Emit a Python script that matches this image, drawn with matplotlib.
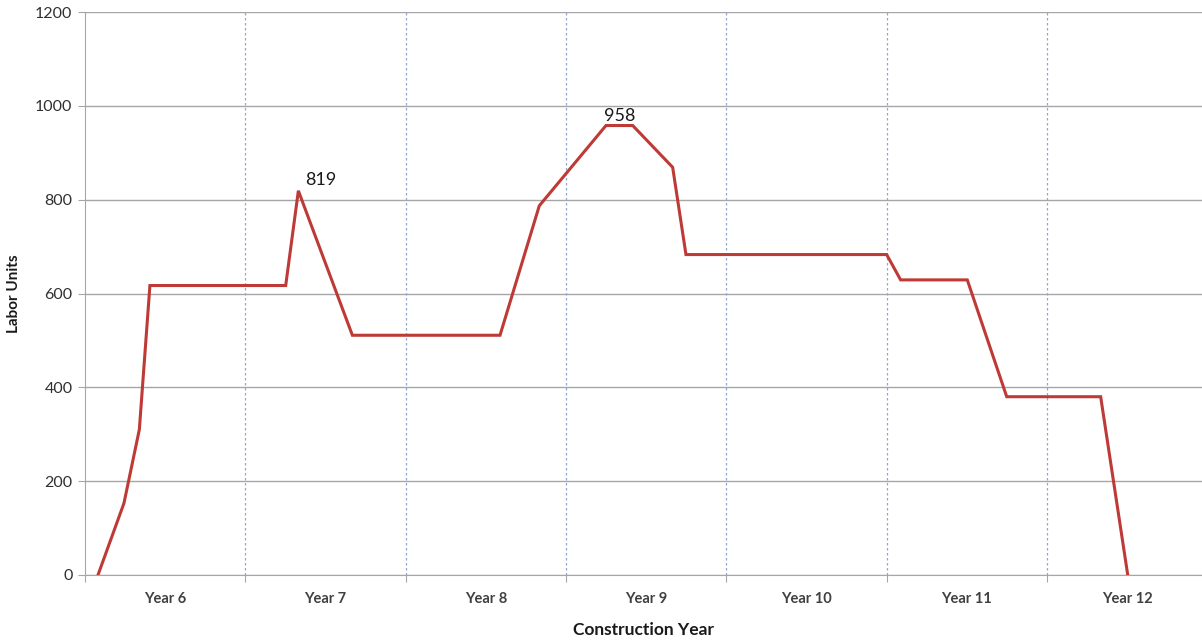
import matplotlib
matplotlib.use("Agg")
import matplotlib.pyplot as plt
from matplotlib.ticker import FixedLocator, NullFormatter

# Labor curve, x measured in years from the start of Year 6
x_pos = [0.081, 0.243, 0.339, 0.405, 1.252, 1.331, 1.668, 2.589, 2.834, 3.250,
         3.417, 3.666, 3.749, 5.001, 5.088, 5.504, 5.750, 6.336, 6.505]
labor = [0, 153, 310, 617, 617, 819, 511, 511, 787, 958,
         958, 869, 683, 683, 629, 629, 380, 380, 0]
year_labels = ["Year 6", "Year 7", "Year 8", "Year 9", "Year 10", "Year 11", "Year 12"]
y_ticks = [0, 200, 400, 600, 800, 1000, 1200]

plt.rcParams['font.family'] = ['Lato', 'DejaVu Sans']

fig = plt.figure(figsize=(12.02, 6.41), dpi=100)
ax = fig.add_axes([85 / 1202, 66 / 641, 1 - 85 / 1202, 563 / 641])

ax.plot(x_pos, labor, color="#BE3A36", linewidth=2.2, solid_joinstyle="miter", zorder=3)

# peak labels
ax.text(x_pos[5] + 0.045, labor[5] + 6, "819", fontsize=13, ha="left", va="bottom", color="#1a1a1a")
ax.text((x_pos[9] + x_pos[10]) / 2, labor[9] + 3, "958", fontsize=13, ha="center", va="bottom", color="#1a1a1a")

ax.set_xlim(0, (1202 - 85) / 160.3)
ax.set_ylim(0, 1200)

# horizontal grid
ax.set_yticks(y_ticks)
ax.yaxis.grid(True, color="#A6A6A6", linewidth=1.0)
ax.set_axisbelow(True)

# year boundaries as dashed lines, labels at year centres
bounds = list(range(0, len(year_labels) + 1))
ax.xaxis.set_major_locator(FixedLocator(bounds))
ax.xaxis.set_major_formatter(NullFormatter())
ax.xaxis.set_minor_locator(FixedLocator([b + 0.5 for b in bounds[:-1]]))
ax.set_xticklabels(year_labels, minor=True)
for b in bounds[1:-1]:
    ax.axvline(b, color="#8FA8D0", linewidth=0.9, linestyle=(0, (2, 2)), zorder=1)

ax.tick_params(axis="x", which="major", length=5, color="#A6A6A6")
ax.tick_params(axis="x", which="minor", length=0, pad=12, labelsize=10.5, labelcolor="#404040")
ax.tick_params(axis="y", length=5, color="#A6A6A6", labelsize=11.5, labelcolor="#303030", pad=4)
for lbl in ax.get_xticklabels(minor=True):
    lbl.set_fontweight("bold")

for side in ["top", "right"]:
    ax.spines[side].set_visible(False)
for side in ["left", "bottom"]:
    ax.spines[side].set_color("#A6A6A6")

ax.set_xlabel("Construction Year", fontsize=12.5, fontweight="bold", labelpad=12, color="#1a1a1a")
ax.set_ylabel("Labor Units", fontsize=11, fontweight="bold", labelpad=10, color="#1a1a1a")

fig.savefig("out.png", dpi=100)
